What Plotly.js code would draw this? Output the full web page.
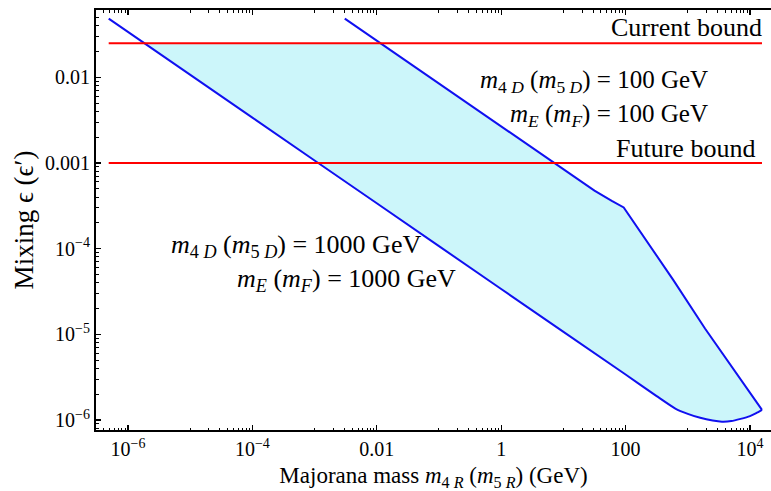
<!DOCTYPE html>
<html>
<head>
<meta charset="utf-8">
<script src="https://cdn.plot.ly/plotly-3.0.1.min.js"></script>
<style>html,body{margin:0;padding:0;background:#fff;}#chart{width:771px;height:491px;}</style>
</head>
<body>
<div id="chart"></div>
<script>
// Curve for m4D (m5D) = 1000 GeV, mE (mF) = 1000 GeV
const heavyMass = [4.9e-7, 1e-4, 0.01, 1, 100, 316, 631, 1000, 1585, 2512, 3548, 5012, 7079, 10000, 12590, 15600];
const heavyMix  = [0.0483, 3.38e-3, 3.38e-4, 3.38e-5, 3.39e-6, 1.9e-6, 1.36e-6, 1.18e-6, 1.06e-6, 9.85e-7, 9.55e-7, 9.7e-7, 1.03e-6, 1.11e-6, 1.2e-6, 1.31e-6];
// Curve for m4D (m5D) = 100 GeV, mE (mF) = 100 GeV
const lightMass = [3.06e-3, 0.1, 1, 7.14, 31.6, 60, 93.3, 583, 1892, 15600];
const lightMix  = [0.0483, 8.45e-3, 2.67e-3, 1e-3, 4.75e-4, 3.6e-4, 3.02e-4, 4.32e-5, 1.17e-5, 1.31e-6];
// Bounds
const currentBound = 0.025;
const futureBound = 0.001;
const boundMass = [4.9e-7, 15600];

const xTickVals = [1e-6, 1e-4, 0.01, 1, 100, 1e4];
const xTickText = ['10<sup>\u22126</sup>', '10<sup>\u22124</sup>', '0.01', '1', '100', '10<sup>4</sup>'];
const yTickVals = [1e-6, 1e-5, 1e-4, 1e-3, 1e-2];
const yTickText = ['10<sup>\u22126</sup>', '10<sup>\u22125</sup>', '10<sup>\u22124</sup>', '0.001', '0.01'];

// minor ticks
const xMinor = [];
for (let e = -7; e <= 4; e++) {
  if (e % 2 !== 0) {
    xMinor.push(Math.pow(10, e));
    for (let k = 2; k <= 9; k++) xMinor.push(k * Math.pow(10, e));
  }
}
const yMinor = [];
for (let e = -7; e <= -1; e++) {
  for (let k = 2; k <= 9; k++) yMinor.push(k * Math.pow(10, e));
}

// clip a curve at the current bound (log interpolation)
function clipBelow(xs, ys, b) {
  const ox = [], oy = [];
  for (let i = 0; i < xs.length; i++) {
    if (ys[i] <= b) {
      if (i > 0 && ys[i - 1] > b) {
        const t = (Math.log10(b) - Math.log10(ys[i - 1])) / (Math.log10(ys[i]) - Math.log10(ys[i - 1]));
        const lx = Math.log10(xs[i - 1]) + t * (Math.log10(xs[i]) - Math.log10(xs[i - 1]));
        ox.push(Math.pow(10, lx)); oy.push(b);
      }
      ox.push(xs[i]); oy.push(ys[i]);
    }
  }
  return [ox, oy];
}
const [hx, hy] = clipBelow(heavyMass, heavyMix, currentBound);
const [lx, ly] = clipBelow(lightMass, lightMix, currentBound);
const fillX = lx.concat(hx.slice().reverse());
const fillY = ly.concat(hy.slice().reverse());

const blue = '#1010f0';
const red = '#ff0000';
const traces = [
  {x: fillX, y: fillY, mode: 'lines', fill: 'toself', fillcolor: 'rgb(204,246,250)', line: {width: 0}, hoverinfo: 'skip'},
  {x: heavyMass, y: heavyMix, mode: 'lines', line: {color: blue, width: 2, shape: 'spline', smoothing: 0.6}},
  {x: lightMass, y: lightMix, mode: 'lines', line: {color: blue, width: 2}},
  {x: boundMass, y: [currentBound, currentBound], mode: 'lines', line: {color: red, width: 2}},
  {x: boundMass, y: [futureBound, futureBound], mode: 'lines', line: {color: red, width: 2}}
];

const W = 675, H = 420, L = 96, T = 10;
function px(x) { return (x - L) / W; }
function py(y) { return (T + H - y) / H; }
const serif = '"Liberation Serif", "Times New Roman", Times, serif';
function ann(text, x, y, anchor, size) {
  return {text: text, xref: 'paper', yref: 'paper', x: px(x), y: py(y), xanchor: anchor, yanchor: 'middle', showarrow: false,
          font: {family: serif, size: size, color: '#000'}};
}
const annotations = [
  ann('Current bound', 764, 28, 'right', 26),
  ann('Future bound', 757, 148, 'right', 26),
  ann('<i>m</i><sub>4 <i>D</i></sub> (<i>m</i><sub>5 <i>D</i></sub>) = 100 GeV', 710, 82, 'right', 25),
  ann('<i>m</i><sub><i>E</i></sub> (<i>m</i><sub><i>F</i></sub>) = 100 GeV', 710, 115, 'right', 25),
  ann('<i>m</i><sub>4 <i>D</i></sub> (<i>m</i><sub>5 <i>D</i></sub>) = 1000 GeV', 169, 246, 'left', 26),
  ann('<i>m</i><sub><i>E</i></sub> (<i>m</i><sub><i>F</i></sub>) = 1000 GeV', 235, 280, 'left', 26)
];

const font = {family: serif, size: 20, color: '#000'};
const layout = {
  width: 771, height: 491,
  margin: {l: L, r: 0, t: T, b: 491 - T - H},
  paper_bgcolor: '#fff', plot_bgcolor: '#fff',
  showlegend: false,
  font: font,
  xaxis: {
    type: 'log', range: [-6.514, 4.338],
    tickmode: 'array', tickvals: xTickVals, ticktext: xTickText,
    ticks: 'inside', ticklen: 5, tickwidth: 1.2, tickcolor: '#000',
    showline: true, linecolor: '#000', linewidth: 2, mirror: 'ticks',
    showgrid: false, zeroline: false,
    tickfont: font,
    minor: {tickmode: 'array', tickvals: xMinor, ticks: 'inside', ticklen: 2.5, tickcolor: '#000', tickwidth: 1, showgrid: false},
    title: {text: 'Majorana mass <i>m</i><sub>4 <i>R</i></sub> (<i>m</i><sub>5 <i>R</i></sub>) (GeV)', font: {family: serif, size: 23, color: '#000'}, standoff: 8}
  },
  yaxis: {
    type: 'log', range: [-6.117, -1.215],
    tickmode: 'array', tickvals: yTickVals, ticktext: yTickText,
    ticks: 'inside', ticklen: 5, tickwidth: 1.2, tickcolor: '#000',
    showline: true, linecolor: '#000', linewidth: 2, mirror: false,
    showgrid: false, zeroline: false,
    tickfont: font,
    minor: {tickmode: 'array', tickvals: yMinor, ticks: 'inside', ticklen: 2.5, tickcolor: '#000', tickwidth: 1, showgrid: false},
    title: {text: 'Mixing \u03f5 (\u03f5\u2032)', font: {family: serif, size: 27, color: '#000'}, standoff: 4}
  },
  annotations: annotations
};
Plotly.newPlot('chart', traces, layout, {staticPlot: true, displayModeBar: false});
</script>
</body>
</html>
